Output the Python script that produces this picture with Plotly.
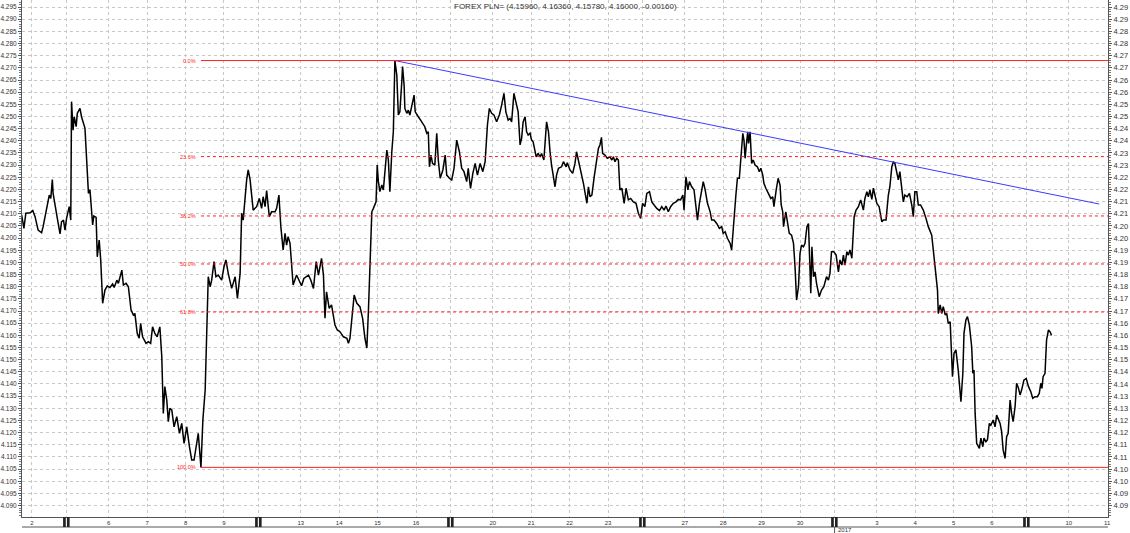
import plotly.graph_objects as go

TITLE = "FOREX PLN= (4.15960, 4.16360, 4.15780, 4.16000, -0.00160)"

# ---- x axis: trading-day index (0 = Fri 2 Dec 2016) ----
day_labels = ["2", "5", "6", "7", "8", "9", "12", "13", "14", "15", "16", "19", "20", "21",
              "22", "23", "26", "27", "28", "29", "30", "2", "3", "4", "5", "6", "9", "10", "11"]
day_is_monday = [False, True, False, False, False, False, True, False, False, False, False,
                 True, False, False, False, False, True, False, False, False, False, True,
                 False, False, False, False, True, False, False]
year_label = "2017"
year_day_index = 21

# ---- y axis ticks ----
left_ticks = [4.090, 4.095, 4.100, 4.105, 4.110, 4.115, 4.120, 4.125, 4.130, 4.135, 4.140,
              4.145, 4.150, 4.155, 4.160, 4.165, 4.170, 4.175, 4.180, 4.185, 4.190, 4.195,
              4.200, 4.205, 4.210, 4.215, 4.220, 4.225, 4.230, 4.235, 4.240, 4.245, 4.250,
              4.255, 4.260, 4.265, 4.270, 4.275, 4.280, 4.285, 4.290, 4.295]
left_labels = ["%.3f" % v for v in left_ticks]
right_labels = ["4.09", "4.09", "4.10", "4.10", "4.11", "4.11", "4.12", "4.12", "4.13", "4.13",
                "4.14", "4.14", "4.15", "4.15", "4.16", "4.16", "4.17", "4.17", "4.18", "4.18",
                "4.19", "4.19", "4.20", "4.20", "4.21", "4.21", "4.22", "4.22", "4.23", "4.23",
                "4.24", "4.24", "4.25", "4.25", "4.26", "4.26", "4.27", "4.27", "4.28", "4.28",
                "4.29", "4.29"]

# ---- price series (time in trading days, rate) ----
wk1_t = [-0.27, -0.21, -0.16, -0.05, 0.02, 0.08, 0.16, 0.25, 0.29, 0.36, 0.45, 0.49, 0.53, 0.55,
         0.63, 0.66, 0.73, 0.77, 0.82, 0.86, 0.90, 0.97, 1.01, 1.03, 1.07, 1.10, 1.15, 1.18,
         1.25, 1.29, 1.38, 1.42, 1.47, 1.51, 1.58, 1.61, 1.67, 1.70, 1.75, 1.79, 1.84, 1.90,
         1.96, 2.03, 2.10, 2.14, 2.21, 2.25, 2.34, 2.38, 2.45, 2.51, 2.58, 2.64, 2.68, 2.74,
         2.79, 2.83, 2.88, 2.97, 3.03, 3.09, 3.14, 3.20, 3.26, 3.33, 3.38, 3.42, 3.46, 3.51,
         3.55, 3.59, 3.64, 3.70, 3.77, 3.84, 3.90, 3.96, 4.03, 4.10, 4.16, 4.22, 4.33, 4.40,
         4.45, 4.51, 4.55, 4.59, 4.64, 4.68, 4.74, 4.79, 4.85, 4.94, 5.00, 5.05, 5.11, 5.20,
         5.29, 5.35, 5.42, 5.46, 5.50, 5.55, 5.59, 5.63, 5.68, 5.76, 5.85]
wk1_v = [4.2095, 4.2040, 4.2102, 4.2104, 4.2113, 4.2088, 4.2033, 4.2022, 4.2047, 4.2102, 4.2177,
         4.2163, 4.2241, 4.2184, 4.2095, 4.2081, 4.2017, 4.2067, 4.2074, 4.2033, 4.2081, 4.2129,
         4.2074, 4.2561, 4.2444, 4.2499, 4.2458, 4.2513, 4.2533, 4.2499, 4.2451, 4.2307, 4.2184,
         4.2198, 4.2054, 4.2091, 4.2085, 4.1923, 4.1992, 4.1910, 4.1732, 4.1786, 4.1803, 4.1797,
         4.1811, 4.1797, 4.1827, 4.1814, 4.1868, 4.1807, 4.1814, 4.1800, 4.1704, 4.1684, 4.1690,
         4.1608, 4.1588, 4.1649, 4.1594, 4.1567, 4.1574, 4.1567, 4.1635, 4.1608, 4.1594, 4.1635,
         4.1512, 4.1279, 4.1389, 4.1334, 4.1245, 4.1300, 4.1293, 4.1224, 4.1266, 4.1197, 4.1238,
         4.1156, 4.1224, 4.1142, 4.1087, 4.1087, 4.1197, 4.1057, 4.1252, 4.1375, 4.1635, 4.1841,
         4.1800, 4.1827, 4.1903, 4.1841, 4.1848, 4.1827, 4.1882, 4.1910, 4.1855, 4.1793, 4.1841,
         4.1752, 4.1855, 4.2102, 4.2074, 4.2184, 4.2239, 4.2280, 4.2239, 4.2115, 4.2129]

wk2_t = [5.92, 5.98, 6.02, 6.07, 6.11, 6.18, 6.24, 6.33, 6.37, 6.43, 6.48, 6.54, 6.59, 6.63,
         6.67, 6.72, 6.80, 6.89, 7.02, 7.08, 7.20, 7.26, 7.33, 7.40, 7.46, 7.54, 7.59, 7.63,
         7.67, 7.74, 7.80, 7.89, 7.95, 8.02, 8.11, 8.20, 8.24, 8.28, 8.39, 8.46, 8.54, 8.61,
         8.67, 8.72, 8.76, 8.80, 8.85, 8.89, 8.96, 8.99, 9.02, 9.06, 9.11, 9.15, 9.19, 9.24,
         9.28, 9.32, 9.37, 9.41, 9.45, 9.50, 9.54, 9.58, 9.63, 9.65, 9.69, 9.71, 9.76, 9.80,
         9.84, 9.89, 9.95, 9.98, 10.02, 10.06, 10.12, 10.17, 10.23, 10.28, 10.32, 10.35, 10.39,
         10.43, 10.49, 10.54, 10.58, 10.63, 10.70, 10.76, 10.80, 10.87, 10.93]
wk2_v = [4.2163, 4.2122, 4.2170, 4.2129, 4.2195, 4.2088, 4.2108, 4.2108, 4.2122, 4.2177, 4.2047,
         4.1951, 4.2019, 4.1971, 4.2006, 4.1978, 4.1807, 4.1848, 4.1804, 4.1834, 4.1848, 4.1827,
         4.1793, 4.1903, 4.1848, 4.1917, 4.1848, 4.1670, 4.1779, 4.1711, 4.1725, 4.1642, 4.1622,
         4.1615, 4.1594, 4.1588, 4.1567, 4.1588, 4.1766, 4.1732, 4.1718, 4.1670, 4.1588, 4.1548,
         4.1697, 4.1903, 4.2108, 4.2122, 4.2149, 4.2300, 4.2232, 4.2191, 4.2218, 4.2198, 4.2273,
         4.2362, 4.2321, 4.2191, 4.2355, 4.2437, 4.2730, 4.2670, 4.2506, 4.2519, 4.2643, 4.2705,
         4.2629, 4.2533, 4.2513, 4.2526, 4.2506, 4.2540, 4.2588, 4.2519, 4.2506, 4.2499, 4.2485,
         4.2472, 4.2458, 4.2431, 4.2437, 4.2293, 4.2341, 4.2307, 4.2300, 4.2431, 4.2321, 4.2246,
         4.2280, 4.2341, 4.2259, 4.2246, 4.2239]

wk3_t = [10.99, 11.06, 11.13, 11.19, 11.25, 11.32, 11.36, 11.42, 11.48, 11.54, 11.60, 11.67,
         11.74, 11.80, 11.86, 11.91, 11.97, 12.03, 12.10, 12.17, 12.23, 12.29, 12.34, 12.40,
         12.45, 12.49, 12.55, 12.60, 12.66, 12.71, 12.75, 12.79, 12.84, 12.88, 12.92, 12.97,
         13.01, 13.05, 13.13, 13.18, 13.23, 13.27, 13.33, 13.40, 13.45, 13.49, 13.53, 13.62,
         13.66, 13.71, 13.79, 13.84, 13.91, 13.94, 14.01, 14.08, 14.14, 14.18, 14.23, 14.29,
         14.36, 14.45, 14.49, 14.53, 14.58, 14.64, 14.71, 14.75, 14.79, 14.83, 14.86, 14.92,
         14.98, 15.05, 15.10, 15.14, 15.18, 15.23, 15.27, 15.31, 15.36, 15.42, 15.47, 15.53,
         15.59, 15.66, 15.73, 15.79, 15.85]
wk3_v = [4.2287, 4.2403, 4.2355, 4.2287, 4.2273, 4.2232, 4.2287, 4.2204, 4.2266, 4.2307, 4.2259,
         4.2307, 4.2273, 4.2314, 4.2465, 4.2533, 4.2513, 4.2506, 4.2478, 4.2506, 4.2547, 4.2595,
         4.2519, 4.2485, 4.2492, 4.2478, 4.2595, 4.2561, 4.2519, 4.2383, 4.2410, 4.2478, 4.2499,
         4.2437, 4.2424, 4.2431, 4.2403, 4.2396, 4.2334, 4.2348, 4.2334, 4.2348, 4.2321, 4.2478,
         4.2437, 4.2355, 4.2300, 4.2211, 4.2259, 4.2287, 4.2293, 4.2314, 4.2293, 4.2310, 4.2280,
         4.2266, 4.2307, 4.2355, 4.2321, 4.2280, 4.2225, 4.2143, 4.2211, 4.2170, 4.2177, 4.2252,
         4.2334, 4.2369, 4.2383, 4.2414, 4.2348, 4.2341, 4.2328, 4.2334, 4.2321, 4.2334, 4.2314,
         4.2328, 4.2321, 4.2198, 4.2205, 4.2143, 4.2205, 4.2157, 4.2163, 4.2149, 4.2143, 4.2102,
         4.2081]

wk4_t = [15.90, 15.96, 16.01, 16.08, 16.14, 16.20, 16.27, 16.34, 16.40, 16.46, 16.51, 16.57,
         16.63, 16.70, 16.77, 16.83, 16.89, 16.95, 16.98, 17.03, 17.08, 17.12, 17.18, 17.24,
         17.33, 17.38, 17.44, 17.48, 17.53, 17.59, 17.66, 17.70, 17.76, 17.83, 17.90, 17.96,
         18.00, 18.05, 18.11, 18.18, 18.22, 18.26, 18.33, 18.37, 18.42, 18.46, 18.51, 18.54,
         18.57, 18.61, 18.64, 18.66, 18.70, 18.74, 18.78, 18.83, 18.89, 18.94, 18.98, 19.03,
         19.06, 19.11, 19.17, 19.24, 19.29, 19.32, 19.38, 19.43, 19.48, 19.51, 19.55, 19.57,
         19.63, 19.67, 19.72, 19.78, 19.83, 19.87, 19.91, 19.96, 20.00, 20.04, 20.09, 20.13,
         20.18, 20.22, 20.24, 20.28, 20.31, 20.35, 20.39, 20.43, 20.50, 20.56, 20.62, 20.69,
         20.74, 20.78]
wk4_v = [4.2143, 4.2129, 4.2184, 4.2191, 4.2149, 4.2136, 4.2122, 4.2113, 4.2129, 4.2115, 4.2132,
         4.2108, 4.2129, 4.2143, 4.2149, 4.2159, 4.2157, 4.2177, 4.2115, 4.2252, 4.2198, 4.2232,
         4.2211, 4.2198, 4.2074, 4.2143, 4.2205, 4.2232, 4.2198, 4.2143, 4.2108, 4.2074, 4.2074,
         4.2060, 4.2040, 4.2047, 4.2019, 4.2026, 4.1999, 4.1978, 4.1951, 4.2047, 4.2177, 4.2246,
         4.2246, 4.2328, 4.2431, 4.2403, 4.2328, 4.2396, 4.2437, 4.2389, 4.2437, 4.2307, 4.2321,
         4.2300, 4.2293, 4.2273, 4.2287, 4.2259, 4.2225, 4.2205, 4.2184, 4.2163, 4.2170, 4.2129,
         4.2198, 4.2246, 4.2218, 4.2136, 4.2108, 4.2047, 4.2108, 4.2060, 4.2019, 4.2012, 4.1978,
         4.1882, 4.1745, 4.1800, 4.1937, 4.1971, 4.1964, 4.1978, 4.2047, 4.2060, 4.1978, 4.1773,
         4.1964, 4.1841, 4.1861, 4.1814, 4.1759, 4.1786, 4.1800, 4.1841, 4.1827, 4.1855]

wk5_t = [20.82, 20.88, 20.94, 21.00, 21.04, 21.09, 21.13, 21.17, 21.22, 21.26, 21.30, 21.35,
         21.41, 21.46, 21.52, 21.58, 21.65, 21.69, 21.74, 21.78, 21.82, 21.87, 21.91, 21.95,
         22.00, 22.06, 22.13, 22.17, 22.24, 22.30, 22.34, 22.39, 22.43, 22.47, 22.52, 22.56,
         22.60, 22.65, 22.69, 22.73, 22.79, 22.85, 22.91, 22.95, 22.99, 23.04, 23.08, 23.14,
         23.21, 23.28, 23.34, 23.43, 23.47, 23.54, 23.58, 23.60, 23.65, 23.69, 23.73, 23.78,
         23.82, 23.86, 23.91, 23.93, 23.97, 24.01, 24.06, 24.12, 24.19, 24.24, 24.27, 24.32,
         24.36, 24.41, 24.47, 24.50, 24.53, 24.56, 24.60, 24.67, 24.71, 24.76, 24.79, 24.84,
         24.88, 24.93, 24.97, 25.03, 25.08, 25.12, 25.16, 25.21, 25.25, 25.29, 25.34, 25.38,
         25.42, 25.47, 25.51, 25.55, 25.60, 25.64, 25.69, 25.73, 25.77, 25.83, 25.89, 25.95]
wk5_v = [4.1944, 4.1944, 4.1930, 4.1861, 4.1910, 4.1889, 4.1930, 4.1889, 4.1944, 4.1930, 4.1951,
         4.1917, 4.2088, 4.2115, 4.2129, 4.2157, 4.2115, 4.2163, 4.2191, 4.2170, 4.2198, 4.2159,
         4.2205, 4.2177, 4.2143, 4.2129, 4.2067, 4.2074, 4.2074, 4.2177, 4.2211, 4.2293, 4.2314,
         4.2307, 4.2273, 4.2239, 4.2273, 4.2205, 4.2149, 4.2177, 4.2170, 4.2184, 4.2136, 4.2088,
         4.2191, 4.2191, 4.2136, 4.2136, 4.2115, 4.2081, 4.2047, 4.2012, 4.1951, 4.1855, 4.1786,
         4.1690, 4.1725, 4.1690, 4.1718, 4.1684, 4.1690, 4.1649, 4.1656, 4.1581, 4.1430, 4.1526,
         4.1540, 4.1457, 4.1327, 4.1444, 4.1608, 4.1663, 4.1677, 4.1642, 4.1553, 4.1444, 4.1457,
         4.1279, 4.1156, 4.1135, 4.1177, 4.1142, 4.1177, 4.1163, 4.1170, 4.1238, 4.1231, 4.1252,
         4.1224, 4.1272, 4.1259, 4.1238, 4.1204, 4.1128, 4.1094, 4.1183, 4.1197, 4.1334, 4.1279,
         4.1245, 4.1307, 4.1403, 4.1382, 4.1355, 4.1375, 4.1416, 4.1423, 4.1389]

wk6_t = [26.01, 26.06, 26.12, 26.18, 26.23, 26.27, 26.30, 26.33, 26.38, 26.42, 26.47, 26.51, 26.55]
wk6_v = [4.1368, 4.1341, 4.1348, 4.1348, 4.1361, 4.1403, 4.1382, 4.1430, 4.1444, 4.1581, 4.1622,
         4.1615, 4.1600]

# ---- trend line (from the high through the later peaks) ----
trend_t = [9.45, 27.79]
trend_v = [4.2730, 4.2140]

# ---- Fibonacci retracement levels (%) ----
fib_pcts = [0.0, 23.6, 38.2, 50.0, 61.8, 100.0]

# ------------------------------------------------------------------
t_all = wk1_t + wk2_t + wk3_t + wk4_t + wk5_t + wk6_t
v_all = wk1_v + wk2_v + wk3_v + wk4_v + wk5_v + wk6_v
assert len(t_all) == len(v_all), (len(t_all), len(v_all))

X_RANGE = [-0.26, 28.02]
Y_RANGE = [4.0853, 4.2979]
PLOT_H = 517  # px height of plot area
FONT = "Liberation Sans, Arial, sans-serif"

hi_v = max(v_all)
lo_v = min(v_all)
lo_t = t_all[v_all.index(lo_v)]

tick_pos = [i - 0.1 if m else float(i) for i, m in enumerate(day_is_monday)]
tick_text = ["" if m else lab for lab, m in zip(day_labels, day_is_monday)]

fig = go.Figure()
fig.add_trace(go.Scatter(x=t_all, y=v_all, mode="lines",
                         line=dict(color="#000000", width=1.5), hoverinfo="skip"))
fig.add_trace(go.Scatter(x=trend_t, y=trend_v, mode="lines", yaxis="y2",
                         line=dict(color="#3b3bff", width=1), hoverinfo="skip"))

shapes = []
annotations = []
for p in fib_pcts:
    lvl = hi_v - p / 100.0 * (hi_v - lo_v)
    solid = p in (0.0, 100.0)
    shapes.append(dict(type="line", xref="x", yref="y", x0=lo_t, x1=X_RANGE[1], y0=lvl, y1=lvl,
                       line=dict(color="#ff2020", width=1, dash="solid" if solid else "dot")))
    annotations.append(dict(x=lo_t, y=lvl, xref="x", yref="y", text="%.1f%%" % p,
                            showarrow=False, xanchor="right", yanchor="middle", xshift=-3,
                            font=dict(family=FONT, size=5.5, color="#ff2020")))

# bottom band line and Monday markers
band_y = -10.0 / PLOT_H
shapes.append(dict(type="line", xref="paper", yref="paper", x0=0, x1=1, y0=band_y, y1=band_y,
                   line=dict(color="#555555", width=1)))
for pos, m in zip(tick_pos, day_is_monday):
    if m:
        for a, b in ((-0.09, -0.02), (0.01, 0.08)):
            shapes.append(dict(type="rect", xref="x", yref="paper", x0=pos + a, x1=pos + b,
                               y0=band_y, y1=0, fillcolor="#222222", line=dict(width=0)))

year_x = tick_pos[year_day_index]
shapes.append(dict(type="line", xref="x", yref="paper", x0=year_x, x1=year_x,
                   y0=band_y, y1=-16.0 / PLOT_H, line=dict(color="#555555", width=1)))
annotations.append(dict(x=year_x, y=-13.0 / PLOT_H, xref="x", yref="paper", text=year_label,
                        showarrow=False, xanchor="left", yanchor="middle", xshift=1,
                        font=dict(family=FONT, size=6, color="#333333")))
annotations.append(dict(x=0.5, y=1 - 7.0 / PLOT_H, xref="paper", yref="paper", text=TITLE,
                        showarrow=False, xanchor="center", yanchor="middle",
                        font=dict(family=FONT, size=8, color="#333333")))

axis_common = dict(range=Y_RANGE, tickmode="array", tickvals=left_ticks, showline=True,
                   linecolor="#555555", linewidth=1, ticks="outside", ticklen=3,
                   tickcolor="#555555", zeroline=False, fixedrange=True, automargin=False,
                   minor=dict(tickmode="linear", tick0=4.0, dtick=0.001, ticks="outside",
                              ticklen=2, tickcolor="#777777", showgrid=False))

fig.update_layout(
    width=1130, height=533,
    margin=dict(l=22, r=22, t=0, b=16),
    plot_bgcolor="white", paper_bgcolor="white",
    showlegend=False, hovermode=False,
    font=dict(family=FONT, color="#333333"),
    xaxis=dict(range=X_RANGE, tickmode="array", tickvals=tick_pos, ticktext=tick_text,
               showgrid=True, gridcolor="#c8c8c8", griddash="dot", gridwidth=1,
               showline=True, linecolor="#555555", linewidth=1, ticks="",
               tickfont=dict(family=FONT, size=6, color="#333333"),
               zeroline=False, fixedrange=True, automargin=False),
    yaxis=dict(ticktext=left_labels, showgrid=True, gridcolor="#c8c8c8", griddash="dot",
               gridwidth=1, side="left",
               tickfont=dict(family=FONT, size=6.5, color="#333333"), **axis_common),
    yaxis2=dict(ticktext=right_labels, showgrid=False, overlaying="y", side="right",
                tickfont=dict(family=FONT, size=7.5, color="#333333"), **axis_common),
    shapes=shapes,
    annotations=annotations,
)

# remove the browser's default 8px page margin so the figure sits at the window origin
fig.write_html("out.html", config={"displayModeBar": False},
               post_script="document.body.style.margin='0';document.body.style.overflow='hidden';")
